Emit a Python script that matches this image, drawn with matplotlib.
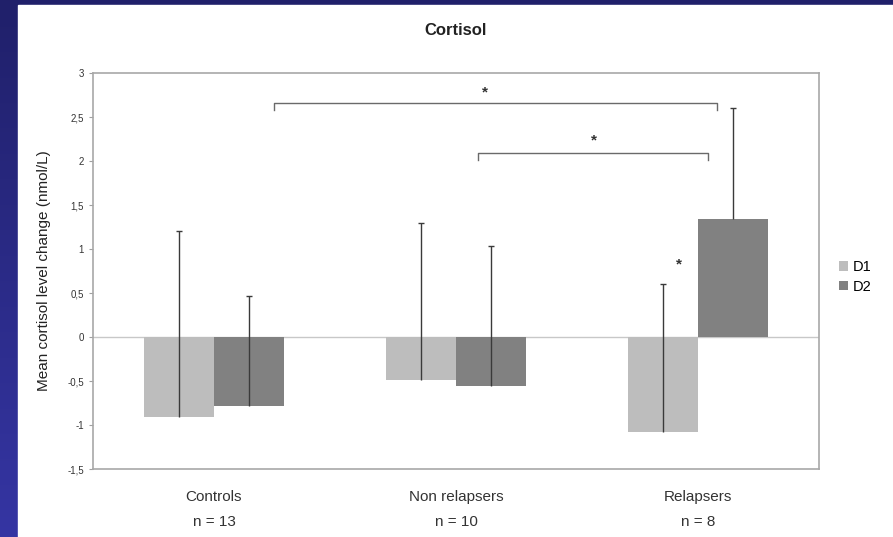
import numpy as np
import matplotlib
matplotlib.use("Agg")
import matplotlib.pyplot as plt
from matplotlib.patches import Rectangle
from matplotlib.ticker import FuncFormatter

plt.rcParams['font.family'] = ['Liberation Sans', 'DejaVu Sans']

# data
groups = ['Controls\nn = 13', 'Non relapsers\nn = 10', 'Relapsers\nn = 8']
d1_mean = [-0.91, -0.49, -1.08]
d1_err = [2.11, 1.79, 1.68]
d2_mean = [-0.78, -0.56, 1.34]
d2_err = [1.25, 1.60, 1.26]
series_names = ['D1', 'D2']

# significance brackets: (x_left, x_right, y), stars: (x, y)
brackets = [(0.25, 2.08, 2.66), (1.09, 2.04, 2.09)]
stars = [(1.12, 2.78), (1.57, 2.23), (1.92, 0.82)]

fig = plt.figure(figsize=(8.93, 5.37), dpi=100)
fig.patch.set_facecolor('#2b2b86')

# gradient blue frame + white slide area
bg = fig.add_axes([0, 0, 1, 1], zorder=-10)
grad = np.linspace(0, 1, 256).reshape(-1, 1)
bg.imshow(grad, aspect='auto', extent=[0, 1, 0, 1],
          cmap=matplotlib.colors.LinearSegmentedColormap.from_list('b', ['#20206a', '#3535a3']))
bg.add_patch(Rectangle((18 / 893, 0), 1, 1 - 5 / 537, color='white', zorder=2))
bg.set_xlim(0, 1)
bg.set_ylim(0, 1)
bg.axis('off')

ax = fig.add_axes([0.1041, 0.1266, 0.813, 0.7374])
x = np.arange(len(groups))
w = 0.29
c1, c2 = '#bdbdbd', '#818181'

ax.bar(x - w / 2, d1_mean, w, color=c1, label=series_names[0], zorder=2)
ax.bar(x + w / 2, d2_mean, w, color=c2, label=series_names[1], zorder=2)

# one-sided (upper) error bars
for xs, m, e in [(x - w / 2, d1_mean, d1_err), (x + w / 2, d2_mean, d2_err)]:
    top = np.array(m) + np.array(e)
    ax.vlines(xs, m, top, color='#3a3a3a', lw=1.0, zorder=3)
    ax.scatter(xs, top, marker='_', s=20, color='#3a3a3a', lw=1.0, zorder=3)

ax.axhline(0, color='#c8c8c8', lw=1.0, zorder=1)

for xl, xr, y in brackets:
    ax.plot([xl, xl, xr, xr], [y - 0.08, y, y, y - 0.08], color='#6a6a6a', lw=1.0, zorder=3)
for sx, sy in stars:
    ax.text(sx, sy, '*', ha='center', va='center', fontsize=11, fontweight='bold', color='#333333')

ax.set_xlim(-0.5, 2.5)
ax.set_ylim(-1.5, 3)
ax.set_yticks(np.arange(-1.5, 3.01, 0.5))
ax.yaxis.set_major_formatter(FuncFormatter(lambda v, p: ('%g' % v).replace('.', ',')))
ax.tick_params(axis='y', labelsize=7, length=3, color='#a0a0a0', labelcolor='#333333')
ax.set_xticks(x)
ax.set_xticklabels(groups, fontsize=11, color='#333333', linespacing=2.05)
ax.tick_params(axis='x', length=0, pad=15)
for s in ax.spines.values():
    s.set_color('#a8a8a8')
    s.set_linewidth(1.2)

ax.set_ylabel('Mean cortisol level change (nmol/L)', fontsize=11, color='#222222', labelpad=12)

ax.legend(loc='center left', bbox_to_anchor=(1.01, 0.485), frameon=False, fontsize=10.5,
          handlelength=0.6, handleheight=0.6, handletextpad=0.3, labelspacing=0.4)

fig.text(0.51, 0.944, 'Cortisol', ha='center', va='center', fontsize=12, fontweight='bold',
         color='#222222')

fig.savefig('out.png', dpi=100)
